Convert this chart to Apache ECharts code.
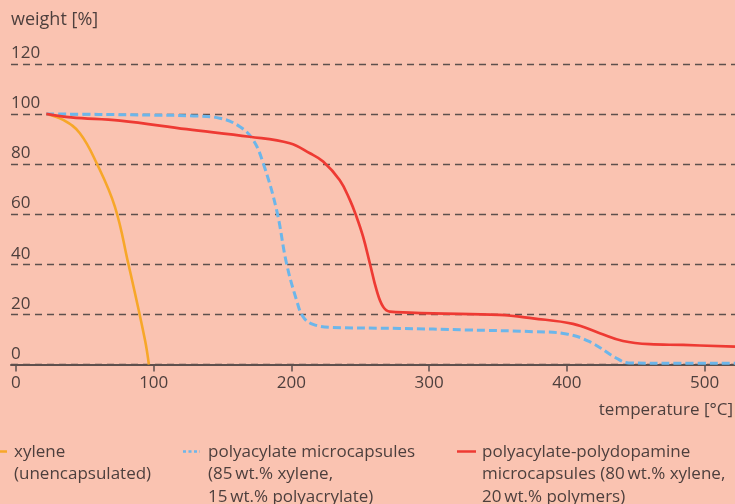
<!DOCTYPE html>
<html>
<head>
<meta charset="utf-8">
<script src="https://cdn.jsdelivr.net/npm/echarts@6/dist/echarts.min.js"></script>
<style>
html,body{margin:0;padding:0;background:#fac3b1;}
#c{width:735px;height:504px;}
</style>
</head>
<body>
<div id="c"></div>
<script>
// ---- data ----
var xTicks = [0, 100, 200, 300, 400, 500];
var yTicks = [0, 20, 40, 60, 80, 100, 120];

var xyleneT = [22, 34.3, 46.4, 58.6, 71.8, 81.5, 93.6, 96.5];
var xyleneW = [100, 97.6, 92.3, 80.3, 63, 40.4, 10, 0];

var paT = [22, 60, 100, 128.7, 148, 162.6, 172.2, 179.5, 189.2, 196.4, 203.7, 208.5, 215.7, 230, 278.7, 327, 375.4, 399.6, 416.5, 436, 445, 480, 522];
var paW = [100, 99.8, 99.5, 99.2, 98.3, 94.9, 89.6, 80.3, 61.7, 40.4, 25.7, 19, 16, 14.8, 14.4, 13.8, 13.1, 12.2, 9.1, 2.5, 0.6, 0.5, 0.5];

var pdT = [22, 40, 75.5, 123.9, 169.8, 198.8, 213.4, 223, 235.1, 242.4, 247.2, 252, 256.9, 261.8, 266.5, 271.4, 285.9, 302.8, 351, 375.4, 404.4, 423.8, 440.7, 460, 484.3, 522];
var pdW = [100, 98.6, 97.3, 93.9, 90.9, 88.3, 84.3, 81, 73.5, 65.7, 59, 51, 40.4, 29.7, 23.1, 21.1, 20.7, 20.4, 19.8, 18.4, 16.2, 12.5, 9.4, 8.1, 7.8, 7.1];

var legendLabels = [
  'xylene\n(unencapsulated)',
  'polyacylate microcapsules\n(85\u2009wt.% xylene,\n15\u2009wt.% polyacrylate)',
  'polyacylate-polydopamine\nmicrocapsules (80\u2009wt.% xylene,\n20\u2009wt.% polymers)'
];
var seriesNames = ['xylene', 'polyacylate microcapsules', 'polyacylate-polydopamine microcapsules'];

function zip(a, b) { return a.map(function (v, i) { return [v, b[i]]; }); }

var FONT = '"Open Sans", "Noto Sans", sans-serif';
var FS = 17;
var TXT = '#4d3f3d';
var AX = '#5e504d';
var C_OR = '#f7a729';
var C_BL = '#6cb6ea';
var C_RD = '#ee3a33';

var chart = echarts.init(document.getElementById('c'), null, {renderer: 'canvas'});
chart.setOption({
  backgroundColor: '#fac3b1',
  animation: false,
  grid: {left: 11, right: 0, top: 63.8, bottom: 139.5, containLabel: false},
  xAxis: {
    type: 'value', min: -3.6, max: 522,
    axisLine: {show: true, lineStyle: {color: AX, width: 2}},
    axisTick: {show: true, customValues: xTicks, length: 7, lineStyle: {color: AX, width: 1.5}},
    axisLabel: {customValues: xTicks, color: TXT, fontFamily: FONT, fontSize: FS, margin: 10},
    splitLine: {show: false}
  },
  yAxis: {
    type: 'value', min: 0, max: 120, interval: 20,
    axisLine: {show: false},
    axisTick: {show: false},
    axisLabel: {inside: true, align: 'left', verticalAlign: 'bottom', margin: 0, padding: [0,0,2,0], color: TXT, fontFamily: FONT, fontSize: FS},
    splitLine: {show: true, lineStyle: {color: AX, width: 1.4, type: [7, 5]}}
  },
  series: [
    {name: seriesNames[0], type: 'line', data: zip(xyleneT, xyleneW), showSymbol: false, smooth: 0.4,
     lineStyle: {color: C_OR, width: 2.6}, z: 3},
    {name: seriesNames[1], type: 'line', data: zip(paT, paW), showSymbol: false, smooth: 0.4,
     lineStyle: {color: C_BL, width: 3, type: [8, 4]}, z: 4},
    {name: seriesNames[2], type: 'line', data: zip(pdT, pdW), showSymbol: false, smooth: 0.4,
     lineStyle: {color: C_RD, width: 2.7}, z: 5}
  ],
  graphic: [
    {type: 'text', left: 11, top: 11, style: {text: 'weight [%]', fill: TXT, font: '18px ' + FONT}},
    {type: 'text', right: 2, top: 402, style: {text: 'temperature [°C]', fill: TXT, font: FS + 'px ' + FONT}},
    {type: 'line', shape: {x1: 0, y1: 451.5, x2: 7, y2: 451.5}, style: {stroke: C_OR, lineWidth: 2.5}},
    {type: 'text', left: 14, top: 440.5, style: {text: legendLabels[0], fill: TXT, font: FS + 'px ' + FONT, lineHeight: 22.5}},
    {type: 'line', shape: {x1: 183, y1: 451.5, x2: 200, y2: 451.5}, style: {stroke: C_BL, lineWidth: 2.5, lineDash: [3, 2.5]}},
    {type: 'text', left: 208, top: 440.5, style: {text: legendLabels[1], fill: TXT, font: FS + 'px ' + FONT, lineHeight: 22.5}},
    {type: 'line', shape: {x1: 457, y1: 451.5, x2: 476, y2: 451.5}, style: {stroke: C_RD, lineWidth: 2.5}},
    {type: 'text', left: 482, top: 440.5, style: {text: legendLabels[2], fill: TXT, font: FS + 'px ' + FONT, lineHeight: 22.5}}
  ]
});
</script>
</body>
</html>
